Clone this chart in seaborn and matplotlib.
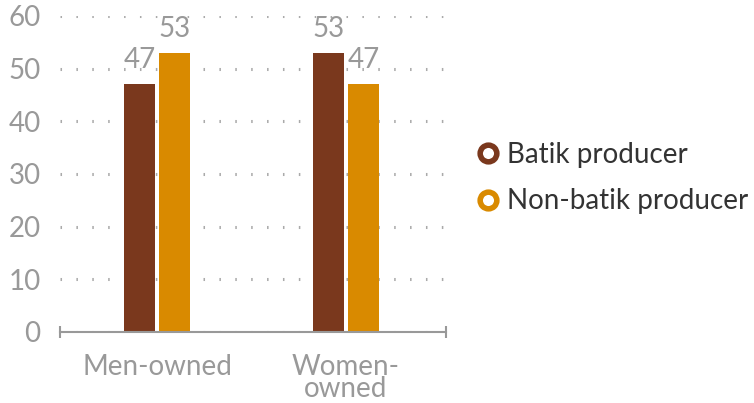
import matplotlib
matplotlib.use('Agg')
import matplotlib.pyplot as plt
import seaborn as sns
import pandas as pd
from matplotlib.lines import Line2D

categories = ['Men-owned', 'Women-\nowned']
series = ['Batik producer', 'Non-batik producer']
batik = [47, 53]
non_batik = [53, 47]
colors = ['#7A381D', '#D98A00']
yticks = [0, 10, 20, 30, 40, 50, 60]

df = pd.DataFrame({
    'category': categories * 2,
    'series': [series[0]] * 2 + [series[1]] * 2,
    'value': batik + non_batik,
})

sns.set_theme(style='white')
plt.rcParams['font.family'] = ['Lato', 'DejaVu Sans']

fig = plt.figure(figsize=(7.54, 4.03), dpi=100)
ax = fig.add_axes([60 / 754, 71 / 403, 386 / 754, 316 / 403])
sns.barplot(data=df, x='category', y='value', hue='series', palette=colors,
            width=0.37, gap=0.1, ax=ax, saturation=1, legend=False,
            edgecolor='none', linewidth=0)

xl = (-0.513, 1.529)
ax.set_xlim(*xl)
ax.set_ylim(0, 60)
ax.set_yticks(yticks)
ax.set_xlabel('')
ax.set_ylabel('')

ax.set_axisbelow(True)
ax.yaxis.grid(True, linestyle=(0, (0.5, 4.7)), color='#AAAAAA', linewidth=2.2)
ax.xaxis.grid(False)

for s in ['top', 'right', 'left']:
    ax.spines[s].set_visible(False)
ax.spines['bottom'].set_color('#999999')
ax.spines['bottom'].set_linewidth(1.5)

ax.tick_params(axis='y', length=0, labelsize=20, labelcolor='#999999', pad=14)
ax.tick_params(axis='x', which='major', length=0, labelsize=20, labelcolor='#999999', pad=16)
for lbl in ax.get_xticklabels():
    lbl.set_linespacing(0.8)
ax.set_xticks(list(xl), minor=True)
ax.tick_params(axis='x', which='minor', bottom=True, length=9, direction='inout',
               color='#999999', width=1.5)

for c in ax.containers:
    ax.bar_label(c, fmt='%d', padding=8, fontsize=20, color='#999999')

handles = [Line2D([], [], marker='o', linestyle='none', markersize=12,
                  markerfacecolor='white', markeredgecolor=col, markeredgewidth=4)
           for col in colors]
fig.legend(handles, series, loc='center left', bbox_to_anchor=(474 / 754, 1 - 178 / 403),
           frameon=False, fontsize=20, labelcolor='#333333', handletextpad=0.2,
           labelspacing=0.75, handlelength=1.0, borderpad=0, borderaxespad=0)

fig.savefig('out.png', dpi=100)
